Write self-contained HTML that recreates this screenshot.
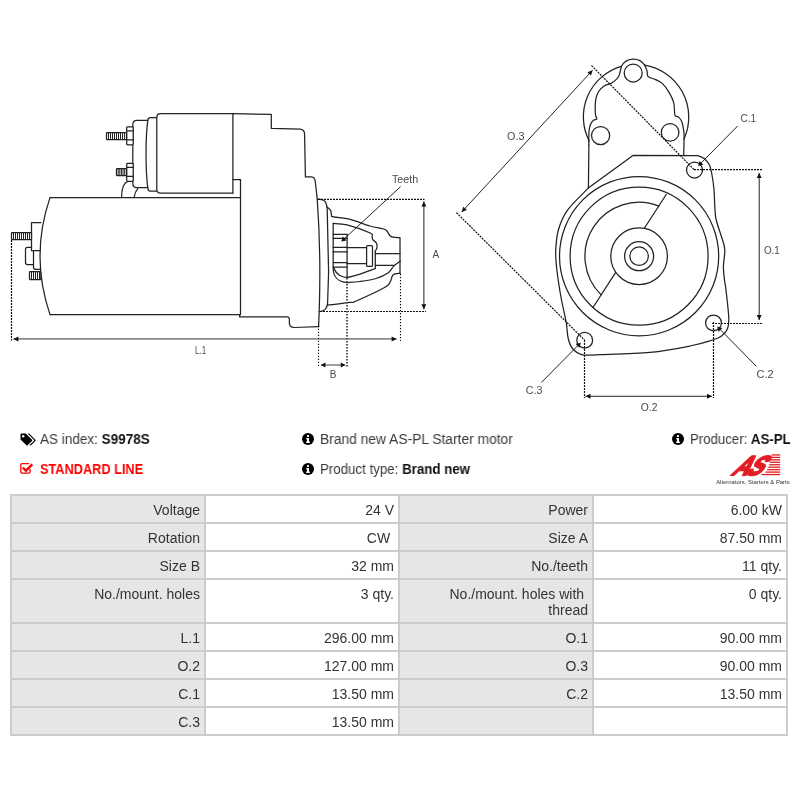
<!DOCTYPE html>
<html><head><meta charset="utf-8">
<style>
*{margin:0;padding:0;box-sizing:border-box}
html,body{width:800px;height:800px;background:#fff;overflow:hidden}
body{position:relative;font-family:"Liberation Sans",sans-serif;color:#333}
#draw{position:absolute;left:0;top:0;will-change:transform}
#draw .s{fill:none;stroke:#222;stroke-width:1.25;stroke-linejoin:round;stroke-linecap:round}
#draw .f{fill:#fff}
#draw .t{stroke:#222;stroke-width:1}
#draw .dt{fill:none;stroke:#111;stroke-width:1.2;stroke-dasharray:2 1}
#draw .dt2{fill:none;stroke:#555;stroke-width:2;stroke-dasharray:1.6 1.4}
#draw .dt3{fill:none;stroke:#000;stroke-width:1.1;stroke-dasharray:1.3 1.7}
#draw .dm{stroke:#222;stroke-width:1}
#draw .dg{stroke:#888;stroke-width:1.6}
#draw .ld{stroke:#222;stroke-width:1}
#draw .ah{fill:#111;stroke:none}
#draw text{font-family:"Liberation Sans",sans-serif;fill:#4a4a4a}
.info{will-change:transform;transform-origin:0 0;position:absolute;font-size:14px;line-height:16px;white-space:nowrap;color:#3a3a3a}
.info b{color:#111}
.ic{position:absolute;will-change:transform}
table{will-change:transform;position:absolute;left:10px;top:494px;border-collapse:collapse;border:2px solid #ccc;table-layout:fixed;width:776px}
td{border:2px solid #ccc;font-size:14px;line-height:16px;padding:6px 4px 4px 4px;text-align:right;vertical-align:top;color:#333;height:26px}
td.l{background:#e6e6e6}
td.v{background:#fff}
</style></head><body>
<svg id="draw" width="800" height="420" viewBox="0 0 800 420">
<path class="s" d="M50.00,197.60 L240.50,197.60"/>
<path class="s" d="M50.00,314.60 L240.50,314.60"/>
<path class="s" d="M50,197.6Q30,256 50,314.6"/>
<path class="s" d="M31.5,247.3H27.5Q25.5,247.3 25.5,249.3V262.5Q25.5,264.5 27.5,264.5H33.5"/>
<path class="s" d="M40.90,222.50 L31.50,222.50 L31.50,250.50 L40.10,250.50"/>
<path class="s" d="M33.5,250.5V267.3Q33.5,269.3 35.5,269.3H40.6"/>
<rect class="s f" x="11.5" y="232.5" width="20.0" height="7.0" rx="0.6"/><line class="t" x1="13.50" y1="232.5" x2="13.50" y2="239.5"/><line class="t" x1="15.50" y1="232.5" x2="15.50" y2="239.5"/><line class="t" x1="17.50" y1="232.5" x2="17.50" y2="239.5"/><line class="t" x1="19.50" y1="232.5" x2="19.50" y2="239.5"/><line class="t" x1="21.50" y1="232.5" x2="21.50" y2="239.5"/><line class="t" x1="23.50" y1="232.5" x2="23.50" y2="239.5"/><line class="t" x1="25.50" y1="232.5" x2="25.50" y2="239.5"/><line class="t" x1="27.50" y1="232.5" x2="27.50" y2="239.5"/><line class="t" x1="29.50" y1="232.5" x2="29.50" y2="239.5"/>
<rect class="s f" x="29.5" y="271.5" width="11.299999999999997" height="8.0" rx="0.6"/><line class="t" x1="31.50" y1="271.5" x2="31.50" y2="279.5"/><line class="t" x1="33.50" y1="271.5" x2="33.50" y2="279.5"/><line class="t" x1="35.50" y1="271.5" x2="35.50" y2="279.5"/><line class="t" x1="37.50" y1="271.5" x2="37.50" y2="279.5"/><line class="t" x1="39.50" y1="271.5" x2="39.50" y2="279.5"/>
<path class="s" d="M232.9,113.7H160.6Q156.8,113.7 156.8,117.5V189.2Q156.8,193 160.6,193H232.9"/>
<path class="s" d="M156.6,117.6H150.2Q148.2,117.6 147.9,119.8C145.4,137 145.4,171 147.9,188.6Q148.2,191 150.2,191H156.6"/>
<path class="s" d="M147.6,120.3H137Q132.8,120.3 132.8,124.5V183.4Q132.8,187.6 137,187.6H147.6"/>
<path class="s" d="M232.90,113.70 L232.90,193.00"/>
<path class="s" d="M232.90,179.60 L240.50,179.60 L240.50,314.60"/>
<path class="s" d="M121.6,197.6C121.6,189 123.5,183 127.8,181.4"/>
<path class="s" d="M134.1,197.6C134.6,193.6 135.6,191 137.8,188.6"/>
<rect class="s f" x="126.7" y="126.9" width="6.5" height="18" rx="0.8"/>
<path class="s" d="M126.70,130.80 L133.20,130.80"/>
<path class="s" d="M126.70,139.80 L133.20,139.80"/>
<rect class="s f" x="126.7" y="163.4" width="6.5" height="18" rx="0.8"/>
<path class="s" d="M126.70,167.30 L133.20,167.30"/>
<path class="s" d="M126.70,176.30 L133.20,176.30"/>
<rect class="s f" x="106.5" y="132.5" width="20.0" height="7.0" rx="0.6"/><line class="t" x1="108.50" y1="132.5" x2="108.50" y2="139.5"/><line class="t" x1="110.50" y1="132.5" x2="110.50" y2="139.5"/><line class="t" x1="112.50" y1="132.5" x2="112.50" y2="139.5"/><line class="t" x1="114.50" y1="132.5" x2="114.50" y2="139.5"/><line class="t" x1="116.50" y1="132.5" x2="116.50" y2="139.5"/><line class="t" x1="118.50" y1="132.5" x2="118.50" y2="139.5"/><line class="t" x1="120.50" y1="132.5" x2="120.50" y2="139.5"/><line class="t" x1="122.50" y1="132.5" x2="122.50" y2="139.5"/><line class="t" x1="124.50" y1="132.5" x2="124.50" y2="139.5"/>
<rect class="s f" x="116.5" y="168.5" width="10.0" height="7.0" rx="0.6"/><line class="t" x1="118.20" y1="168.5" x2="118.20" y2="175.5"/><line class="t" x1="119.82" y1="168.5" x2="119.82" y2="175.5"/><line class="t" x1="121.44" y1="168.5" x2="121.44" y2="175.5"/><line class="t" x1="123.06" y1="168.5" x2="123.06" y2="175.5"/><line class="t" x1="124.68" y1="168.5" x2="124.68" y2="175.5"/>
<path class="s" d="M232.9,113.7L271.3,114.4V128.4L300.5,129.2Q304.6,129.8 304.6,134.5L305.4,176.9H311.5Q314.6,177.2 315.2,181L317.2,198.8C319.6,232 320.6,270 319.2,311L318.6,326.5"/>
<path class="s" d="M239.6,314.6V316.9H287.3Q289.4,317 289.4,319.6V323.6Q289.8,327.3 294,327.5L318.6,326.6"/>
<path class="s" d="M317.3,199.1Q323.6,199 325.6,202.2Q327,204.8 327.2,209L328.6,272L327.6,303Q327,310.6 320.5,311.5L319.2,311.6"/>
<path class="s" d="M326.90,206.90C327.52,207.48 329.83,209.00 330.60,210.40C331.37,211.80 331.00,214.23 331.50,215.30C332.00,216.37 330.25,216.05 333.60,216.80C336.95,217.55 345.53,218.27 351.60,219.80C357.67,221.33 364.65,224.47 370.00,226.00C375.35,227.53 380.85,228.12 383.70,229.00C386.55,229.88 386.05,230.17 387.10,231.30C388.15,232.43 389.02,234.82 390.00,235.80C390.98,236.78 391.33,236.90 393.00,237.20C394.67,237.50 398.83,237.53 400.00,237.60V273.4"/>
<path class="s" d="M400.00,273.30C398.83,273.57 394.58,273.58 393.00,274.90C391.42,276.22 391.83,279.15 390.50,281.20C389.17,283.25 390.82,283.87 385.00,287.20C379.18,290.53 361.43,298.67 355.60,301.20C349.77,303.73 354.67,301.75 350.00,302.40C345.33,303.05 331.33,304.65 327.60,305.10"/>
<path class="s" d="M333.20,223.40C335.52,223.65 340.93,223.30 347.10,224.90C353.27,226.50 366.05,231.08 370.20,233.00C374.35,234.92 371.57,235.28 372.00,236.40C372.43,237.52 372.07,238.60 372.80,239.70C373.53,240.80 375.70,241.68 376.40,243.00C377.10,244.32 377.18,246.23 377.00,247.60C376.82,248.97 375.58,250.60 375.30,251.20"/>
<path class="s" d="M375.30,251.20 L375.30,268.50"/>
<path class="s" d="M375.30,268.50C372.75,269.45 364.68,272.72 360.00,274.20C355.32,275.68 350.45,277.13 347.20,277.40C343.95,277.67 342.37,276.70 340.50,275.80C338.63,274.90 337.18,273.50 336.00,272.00C334.82,270.50 333.83,267.67 333.40,266.80"/>
<path class="s" d="M333.2,223.4V268.5C333.2,276 337.5,282 347.2,282.6"/>
<path class="s" d="M347.20,282.60C349.33,282.42 355.20,282.18 360.00,281.50C364.80,280.82 371.33,279.92 376.00,278.50C380.67,277.08 385.00,275.10 388.00,273.00C391.00,270.90 391.95,267.87 394.00,265.90C396.05,263.93 399.25,261.98 400.30,261.20"/>
<path class="s" d="M333.20,234.40 L347.10,234.40"/>
<path class="s" d="M333.20,238.40 L347.10,238.40"/>
<path class="s" d="M333.20,247.40 L347.10,247.40"/>
<path class="s" d="M333.20,251.90 L347.10,251.90"/>
<path class="s" d="M333.20,262.60 L347.10,262.60"/>
<path class="s" d="M333.20,267.20 L347.10,267.20"/>
<path class="s" d="M347.10,234.40 L347.10,277.20"/>
<path class="s" d="M347.10,247.60 L366.60,247.60"/>
<path class="s" d="M347.10,263.60 L366.60,263.60"/>
<rect class="s f" x="366.6" y="245.6" width="5.9" height="20.8" rx="1"/>
<path class="s" d="M375.30,253.60 L400.00,253.60"/>
<path class="s" d="M375.30,265.30 L394.50,265.30"/>
<path class="dt" d="M318.00,199.40 L424.50,199.40"/>
<path class="dt" d="M320.00,311.50 L426.00,311.50"/>
<line class="dm" x1="423.90" y1="201.40" x2="423.90" y2="309.30"/><path class="ah" d="M423.90,309.30L421.40,304.30L426.40,304.30Z"/><path class="ah" d="M423.90,201.40L426.40,206.40L421.40,206.40Z"/>
<path class="dt" d="M11.50,240.00 L11.50,340.50"/>
<path class="dt3" d="M400.50,273.90 L400.50,341.00"/>
<line class="dg" x1="13.40" y1="338.90" x2="396.60" y2="338.90"/><path class="ah" d="M396.60,338.90L391.60,341.40L391.60,336.40Z"/><path class="ah" d="M13.40,338.90L18.40,336.40L18.40,341.40Z"/>
<path class="dt3" d="M318.50,325.80 L318.50,366.00"/>
<path class="dt2" d="M347.00,278.00 L347.00,366.50"/>
<line class="dg" x1="320.90" y1="365.00" x2="345.30" y2="365.00"/><path class="ah" d="M345.30,365.00L340.80,367.60L340.80,362.40Z"/><path class="ah" d="M320.90,365.00L325.40,362.40L325.40,367.60Z"/>
<path class="ld" d="M400.60,186.60 L343.50,239.50"/>
<path class="ah" d="M341.30,241.60L342.84,236.49L346.51,240.46Z"/>
<circle class="s" cx="639.1" cy="256.2" r="9.25"/>
<circle class="s" cx="639.1" cy="256.2" r="14.5"/>
<circle class="s" cx="639.1" cy="256.2" r="28.3"/>
<circle class="s" cx="639.1" cy="256.2" r="69"/>
<circle class="s" cx="639.1" cy="256.2" r="79.6"/>
<path class="s" d="M658.8,206.05A54,54 0 0 0 601.2,294.9"/>
<path class="s" d="M666.25,194.50 L644.20,228.50"/>
<path class="s" d="M615.70,272.40 L593.00,307.50"/>
<path class="s" d="M588.30,188.10C584.83,191.78 572.47,203.30 567.50,210.20C562.53,217.10 560.45,223.03 558.50,229.50C556.55,235.97 556.17,243.25 555.80,249.00C555.42,254.75 555.80,258.50 556.25,264.00C556.70,269.50 557.62,276.00 558.50,282.00C559.38,288.00 560.21,293.25 561.50,300.00C562.79,306.75 565.15,316.17 566.25,322.50C567.35,328.83 567.06,333.67 568.10,338.00C569.14,342.33 570.10,345.70 572.50,348.50C574.90,351.30 577.92,353.78 582.50,354.80C587.08,355.82 588.75,355.00 600.00,354.60C611.25,354.20 635.00,353.83 650.00,352.40C665.00,350.97 679.58,348.07 690.00,346.00C700.42,343.93 707.29,341.62 712.50,340.00C717.71,338.38 718.75,338.12 721.25,336.25C723.75,334.38 726.25,331.88 727.50,328.75C728.75,325.62 729.00,323.96 728.75,317.50C728.50,311.04 726.71,296.25 726.00,290.00C725.29,283.75 724.93,283.92 724.50,280.00C724.07,276.08 723.38,270.83 723.40,266.50C723.42,262.17 724.50,257.58 724.60,254.00C724.70,250.42 725.35,250.50 724.00,245.00C722.65,239.50 718.00,226.83 716.50,221.00C715.00,215.17 715.42,215.17 715.00,210.00C714.58,204.83 714.50,195.83 714.00,190.00C713.50,184.17 712.75,179.17 712.00,175.00C711.25,170.83 710.83,167.77 709.50,165.00C708.17,162.23 706.08,159.98 704.00,158.40C701.92,156.82 698.17,155.98 697.00,155.50"/>
<path class="s" d="M697.00,155.50 L633.30,155.30 L588.30,188.10"/>
<path class="s" d="M589.2,141A52.7,52.7 0 0 1 621.4,66.3"/>
<path class="s" d="M644.6,65.1A52.7,52.7 0 0 1 684.2,138.5"/>
<path class="s" d="M621.4,66.3A13.5,13.5 0 0 1 644.6,65.1"/>
<path class="s" d="M644.60,65.10C644.98,66.00 646.30,68.58 646.90,70.50C647.50,72.42 646.77,75.08 648.20,76.60C649.63,78.12 653.12,78.43 655.50,79.60C657.88,80.77 660.22,81.43 662.50,83.60C664.78,85.77 667.33,89.42 669.20,92.60C671.07,95.78 672.75,98.95 673.70,102.70C674.65,106.45 674.30,112.82 674.90,115.10C675.50,117.38 676.47,115.83 677.30,116.40C678.13,116.97 679.08,117.40 679.90,118.50C680.72,119.60 681.53,120.75 682.20,123.00C682.87,125.25 683.58,129.33 683.90,132.00C684.22,134.67 684.07,137.83 684.10,139.00"/>
<path class="s" d="M684.10,139.00 L683.70,155.00"/>
<path class="s" d="M621.40,66.30C621.20,67.17 620.67,69.80 620.20,71.50C619.73,73.20 619.47,74.98 618.60,76.50C617.73,78.02 616.37,79.42 615.00,80.60C613.63,81.78 612.20,82.72 610.40,83.60C608.60,84.48 606.17,84.58 604.20,85.90C602.23,87.22 600.01,89.25 598.60,91.50C597.19,93.75 596.32,96.22 595.75,99.40C595.18,102.58 595.20,107.80 595.20,110.60C595.20,113.40 595.47,114.80 595.75,116.20C596.03,117.60 597.27,118.33 596.90,119.00C596.52,119.67 594.53,119.37 593.50,120.20C592.47,121.03 591.42,122.42 590.70,124.00C589.98,125.58 589.52,127.25 589.20,129.70C588.88,132.15 588.85,136.15 588.80,138.70C588.75,141.25 588.88,143.95 588.90,145.00"/>
<path class="s" d="M588.90,145.00 L588.40,188.10"/>
<circle class="s" cx="633.2" cy="73" r="9"/>
<circle class="s" cx="600.6" cy="135.6" r="9.1"/>
<circle class="s" cx="670.1" cy="132.4" r="8.8"/>
<circle class="s" cx="694.5" cy="170" r="8"/>
<circle class="s" cx="713.5" cy="322.9" r="7.9"/>
<circle class="s" cx="584.7" cy="340.2" r="7.9"/>
<path class="dt" d="M591.50,65.50 L694.50,170.00"/>
<path class="dt" d="M456.40,212.60 L584.70,340.20"/>
<line class="dm" x1="461.70" y1="212.00" x2="592.60" y2="70.20"/><path class="ah" d="M592.60,70.20L591.05,75.57L587.37,72.18Z"/><path class="ah" d="M461.70,212.00L463.25,206.63L466.93,210.02Z"/>
<path class="dt" d="M694.00,169.70 L762.00,169.70"/>
<path class="dt" d="M712.00,323.50 L762.50,323.50"/>
<line class="dm" x1="759.20" y1="173.00" x2="759.20" y2="320.00"/><path class="ah" d="M759.20,320.00L756.70,315.00L761.70,315.00Z"/><path class="ah" d="M759.20,173.00L761.70,178.00L756.70,178.00Z"/>
<path class="dt" d="M584.50,340.00 L584.50,398.00"/>
<path class="dt" d="M713.50,322.00 L713.50,398.00"/>
<line class="dm" x1="585.50" y1="396.30" x2="712.00" y2="396.30"/><path class="ah" d="M712.00,396.30L707.00,398.80L707.00,393.80Z"/><path class="ah" d="M585.50,396.30L590.50,393.80L590.50,398.80Z"/>
<path class="ld" d="M737.60,126.00 L700.50,163.60"/>
<path class="ah" d="M698.20,166.10L699.54,160.94L703.36,164.76Z"/>
<path class="ld" d="M756.30,366.30 L719.50,328.80"/>
<path class="ah" d="M717.20,326.60L722.36,327.94L718.54,331.76Z"/>
<path class="ld" d="M541.30,382.50 L578.50,345.00"/>
<path class="ah" d="M580.80,342.70L579.46,347.86L575.64,344.04Z"/>
<text x="392.0" y="182.9" font-size="10.5" textLength="26.2" lengthAdjust="spacingAndGlyphs">Teeth</text>
<text x="432.5" y="257.6" font-size="10">A</text>
<text x="195.0" y="353.5" font-size="10" textLength="11.2" lengthAdjust="spacingAndGlyphs">L.1</text>
<text x="329.8" y="377.8" font-size="10">B</text>
<text x="507.0" y="139.8" font-size="10" textLength="17.4" lengthAdjust="spacingAndGlyphs">O.3</text>
<text x="740.6" y="122.1" font-size="10" textLength="15.4" lengthAdjust="spacingAndGlyphs">C.1</text>
<text x="764.0" y="254.1" font-size="10" textLength="15.8" lengthAdjust="spacingAndGlyphs">O.1</text>
<text x="756.5" y="377.6" font-size="10" textLength="17.0" lengthAdjust="spacingAndGlyphs">C.2</text>
<text x="525.8" y="394.4" font-size="10" textLength="16.6" lengthAdjust="spacingAndGlyphs">C.3</text>
<text x="640.8" y="411.4" font-size="10" textLength="16.6" lengthAdjust="spacingAndGlyphs">O.2</text>
</svg>

<!-- tags icon -->
<svg class="ic" style="left:19.5px;top:432.6px" width="17" height="14" viewBox="0 0 17 14">
<path d="M0.5,1.2Q0.5,0.5 1.2,0.5H5.8L12,6.7Q12.6,7.3 12,7.9L7.6,12.3Q7,12.9 6.4,12.3L0.5,6.4Z" fill="#000"/>
<circle cx="3.2" cy="3.2" r="1.2" fill="#fff"/>
<path d="M7.6,0.5H9.2L15.4,6.7Q16,7.3 15.4,7.9L11,12.3Q10.4,12.9 9.8,12.3L9.6,12.1L13.8,7.9Q14.4,7.3 13.8,6.7Z" fill="#000"/>
</svg>
<div class="info" style="left:40px;top:431px;transform:scaleX(0.966)">AS index: <b>S9978S</b></div>

<!-- check icon -->
<svg class="ic" style="left:19px;top:462px" width="15" height="13" viewBox="0 0 15 13">
<path d="M11.1,7.1V9.8Q11.1,11.2 9.7,11.2H3.2Q1.8,11.2 1.8,9.8V3Q1.8,1.6 3.2,1.6H10.2" fill="none" stroke="#f00" stroke-width="1.3"/>
<path d="M3.9,5.5L6.9,8.7L13.3,2.4" fill="none" stroke="#f00" stroke-width="2.4"/>
</svg>
<div class="info" style="left:40px;top:461px;transform:scaleX(0.91);color:#f00;font-weight:bold">STANDARD LINE</div>

<!-- info icons -->
<svg class="ic" style="left:302px;top:433px" width="12" height="12" viewBox="0 0 12 12"><circle cx="6" cy="6" r="6" fill="#000"/><rect x="5" y="2" width="2" height="2" rx="0.6" fill="#fff"/><path d="M4.2,5H7V8.6H7.8V9.9H4.2V8.6H5V6.3H4.2Z" fill="#fff"/></svg>
<div class="info" style="left:319.6px;top:431px;transform:scaleX(0.986)">Brand new AS-PL Starter motor</div>

<svg class="ic" style="left:302px;top:463px" width="12" height="12" viewBox="0 0 12 12"><circle cx="6" cy="6" r="6" fill="#000"/><rect x="5" y="2" width="2" height="2" rx="0.6" fill="#fff"/><path d="M4.2,5H7V8.6H7.8V9.9H4.2V8.6H5V6.3H4.2Z" fill="#fff"/></svg>
<div class="info" style="left:319.6px;top:461px;transform:scaleX(0.95)">Product type: <b>Brand new</b></div>

<svg class="ic" style="left:671.5px;top:433px" width="12" height="12" viewBox="0 0 12 12"><circle cx="6" cy="6" r="6" fill="#000"/><rect x="5" y="2" width="2" height="2" rx="0.6" fill="#fff"/><path d="M4.2,5H7V8.6H7.8V9.9H4.2V8.6H5V6.3H4.2Z" fill="#fff"/></svg>
<div class="info" style="left:689.5px;top:431px;transform:scaleX(0.944)">Producer: <b>AS-PL</b></div>

<!-- logo -->
<svg class="ic" style="left:710px;top:450px" width="85" height="36" viewBox="0 0 85 36">
<g fill="#e31e24">
<text x="0" y="0" font-family="Liberation Sans" font-weight="bold" font-size="27" letter-spacing="-2.6" stroke="#e31e24" stroke-width="2.1" stroke-linejoin="round" transform="translate(20.5,24.8) skewX(-38) scale(0.84,1)">AS</text>
<rect x="61.6" y="4.3" width="8.6" height="1.3"/>
<rect x="61" y="6.75" width="9.2" height="1.3"/>
<rect x="60.4" y="9.2" width="9.8" height="1.3"/>
<rect x="59.8" y="11.65" width="10.4" height="1.3"/>
<rect x="59.2" y="14.1" width="11" height="1.3"/>
<rect x="58.3" y="16.55" width="11.9" height="1.3"/>
<rect x="57.2" y="19" width="13" height="1.3"/>
<rect x="55.6" y="21.45" width="14.6" height="1.3"/>
<rect x="51.5" y="23.9" width="18.7" height="1.3"/>
</g>
<text x="6.2" y="33.6" font-size="4.6" fill="#333" font-family="Liberation Sans" textLength="73.5" lengthAdjust="spacingAndGlyphs">Alternators, Starters &amp; Parts</text>
</svg>

<table>
<colgroup><col style="width:194px"><col style="width:194px"><col style="width:194px"><col style="width:194px"></colgroup>
<tr><td class="l">Voltage</td><td class="v">24 V</td><td class="l">Power</td><td class="v">6.00 kW</td></tr>
<tr><td class="l">Rotation</td><td class="v">CW&nbsp;</td><td class="l">Size A</td><td class="v">87.50 mm</td></tr>
<tr><td class="l">Size B</td><td class="v">32 mm</td><td class="l">No./teeth</td><td class="v">11 qty.</td></tr>
<tr><td class="l">No./mount. holes</td><td class="v">3 qty.</td><td class="l">No./mount. holes with&nbsp;<br>thread</td><td class="v">0 qty.</td></tr>
<tr><td class="l">L.1</td><td class="v">296.00 mm</td><td class="l">O.1</td><td class="v">90.00 mm</td></tr>
<tr><td class="l">O.2</td><td class="v">127.00 mm</td><td class="l">O.3</td><td class="v">90.00 mm</td></tr>
<tr><td class="l">C.1</td><td class="v">13.50 mm</td><td class="l">C.2</td><td class="v">13.50 mm</td></tr>
<tr><td class="l">C.3</td><td class="v">13.50 mm</td><td class="l"></td><td class="v"></td></tr>
</table>
</body></html>
